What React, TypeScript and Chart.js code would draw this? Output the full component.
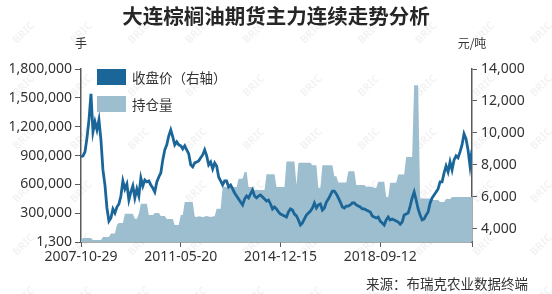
import React, { useEffect, useRef } from "react";
import { Chart, registerables } from "chart.js";

Chart.register(...registerables);

const TITLE = "大连棕榈油期货主力连续走势分析";
const LEFT_UNIT = "手";
const RIGHT_UNIT = "元/吨";
const SOURCE = "来源：布瑞克农业数据终端";
const PRICE_LABEL = "收盘价（右轴）";
const OI_LABEL = "持仓量";
const WATERMARK = "BRIC";

const X_TICK_INDEX = [0, 50, 100, 150, 196];
const X_TICK_LABELS = ["2007-10-29", "2011-05-20", "2014-12-15", "2018-09-12", ""];
const LEFT_TICKS = [1300, 300000, 600000, 900000, 1200000, 1500000, 1800000];
const RIGHT_TICKS = [4000, 6000, 8000, 10000, 12000, 14000];

// 收盘价 (元/吨), right axis
const PRICE = [
  8500, 8560, 8810, 9690, 10820, 12450, 10070, 10690, 10190, 10820,
  9560, 7680, 6740, 5300, 4480, 4670, 5240, 4980, 5360, 5550,
  6050, 6990, 6490, 6800, 5800, 6300, 6680, 5930, 6490, 6050,
  7180, 6680, 7050, 6930, 6990, 6740, 6550, 6300, 6930, 7240,
  7490, 8310, 8940, 9250, 9820, 10190, 9750, 9250, 9440, 9250,
  9190, 9000, 9190, 8940, 8690, 8000, 7870, 8120, 8180, 8250,
  8440, 8620, 8940, 8560, 8000, 8180, 7750, 8120, 7930, 7240,
  6990, 6740, 6990, 6990, 6620, 6740, 6490, 6240, 6050, 5860,
  5670, 5490, 5860, 6050, 5930, 6180, 6430, 6050, 5930, 6050,
  6110, 5990, 5860, 5740, 5800, 5550, 5240, 5360, 5240, 5050,
  4920, 4860, 4800, 4730, 5050, 5240, 5170, 4920, 4800, 4550,
  4230, 4360, 4610, 4860, 4980, 5110, 5300, 5610, 5300, 5490,
  5550, 5170, 5300, 5670, 5860, 6110, 6360, 6360, 6180, 5930,
  5670, 5360, 5300, 5420, 5420, 5490, 5610, 5610, 5490, 5420,
  5360, 5240, 5240, 5170, 5110, 5050, 4800, 4730, 4670, 4730,
  4480, 4360, 4230, 4550, 4730, 4550, 4610, 4550, 4480, 4420,
  4290, 4420, 4860, 4920, 4980, 5420, 5930, 6300, 5800, 5240,
  4860, 4550, 4610, 4860, 5050, 5610, 5930, 6110, 6300, 6490,
  6930, 6930, 7490, 7930, 7560, 8180, 7680, 8310, 8560, 8440,
  8810, 9250, 9940, 9630, 8940, 7930, 8940,
];

// 持仓量 (手), left axis
const OPEN_INTEREST = [
  22000, 43000, 43000, 43000, 43000, 43000, 22000, 22000, 22000, 22000,
  22000, 53000, 53000, 53000, 53000, 90000, 90000, 90000, 178000, 199000,
  199000, 199000, 295000, 295000, 295000, 295000, 295000, 243000, 243000, 295000,
  399000, 399000, 399000, 399000, 282000, 282000, 282000, 302000, 302000, 302000,
  271000, 271000, 271000, 240000, 240000, 240000, 240000, 178000, 178000, 178000,
  282000, 282000, 416000, 416000, 416000, 416000, 416000, 266000, 262000, 270000,
  266000, 258000, 266000, 272000, 266000, 262000, 266000, 270000, 347000, 347000,
  347000, 572000, 576000, 572000, 568000, 572000, 576000, 572000, 572000, 658000,
  658000, 658000, 728000, 728000, 572000, 572000, 572000, 541000, 541000, 541000,
  541000, 541000, 541000, 707000, 707000, 707000, 707000, 707000, 572000, 572000,
  572000, 572000, 572000, 837000, 837000, 837000, 837000, 837000, 593000, 826000,
  826000, 826000, 826000, 826000, 826000, 826000, 800000, 800000, 800000, 562000,
  562000, 800000, 800000, 800000, 800000, 800000, 800000, 686000, 686000, 619000,
  619000, 619000, 619000, 619000, 738000, 738000, 738000, 738000, 593000, 593000,
  593000, 593000, 593000, 577000, 577000, 577000, 577000, 562000, 562000, 629000,
  629000, 629000, 629000, 468000, 468000, 617000, 617000, 617000, 617000, 702000,
  702000, 702000, 702000, 884000, 884000, 884000, 884000, 1631000, 1631000, 1631000,
  453000, 453000, 453000, 453000, 453000, 453000, 437000, 437000, 437000, 437000,
  416000, 416000, 416000, 448000, 448000, 448000, 468000, 468000, 468000, 468000,
  468000, 468000, 468000, 468000, 468000, 468000, 468000,
];

const LINE_COLOR = "#1b6699";
const AREA_COLOR = "#9dbecf";
const AXIS_COLOR = "#5a5a5a";
const TEXT_COLOR = "#333333";
const NUM_FONT = '"Noto Sans", "DejaVu Sans", sans-serif';
const CJK_FONT = '"Noto Sans CJK SC", "Noto Sans", sans-serif';
const CJK_CENTERED_FONT = '"Noto Sans CJK TC", "Noto Sans CJK SC", sans-serif';

const fmt = (v: number) => v.toLocaleString("en-US");

// draws text glyph by glyph, giving full-width characters a full em;
// full-width brackets use a font whose punctuation is centred in the em box
function fillFullWidth(ctx: CanvasRenderingContext2D, text: string, x: number, y: number, size: number) {
  let cx = x;
  for (const ch of Array.from(text)) {
    const code = ch.charCodeAt(0);
    const full = code >= 0x2e80;
    if (full) {
      const centred = ch === "（" || ch === "）";
      ctx.font = `${size}px ${centred ? CJK_CENTERED_FONT : CJK_FONT}`;
      ctx.textAlign = "center";
      ctx.fillText(ch, cx + size / 2, y);
      cx += size;
    } else {
      ctx.font = `${size}px ${CJK_FONT}`;
      ctx.textAlign = "left";
      ctx.fillText(ch, cx, y);
      cx += ctx.measureText(ch).width;
    }
  }
}

const textPlugin = {
  id: "texts",
  beforeDraw(chart: any) {
    const ctx = chart.ctx;
    ctx.save();
    ctx.fillStyle = "rgba(0,0,0,0.05)";
    ctx.font = `bold 11px ${NUM_FONT}`;
    ctx.textAlign = "center";
    ctx.textBaseline = "middle";
    for (let r = 0; r < 6; r++) {
      for (let c = 0; c < 10; c++) {
        const x = 24 + c * 57.5;
        const y = 33 + r * 53;
        ctx.save();
        ctx.translate(x, y);
        ctx.rotate(-Math.PI / 4);
        ctx.fillText(WATERMARK, 0, 0);
        ctx.restore();
      }
    }
    ctx.restore();
  },
  afterDraw(chart: any) {
    const ctx = chart.ctx;
    const area = chart.chartArea;
    ctx.save();
    ctx.textBaseline = "middle";
    // title
    ctx.fillStyle = "#262626";
    ctx.textAlign = "center";
    ctx.font = `bold 20.5px ${CJK_FONT}`;
    ctx.fillText(TITLE, chart.width / 2, 16);
    // units
    ctx.fillStyle = TEXT_COLOR;
    ctx.font = `12px ${CJK_FONT}`;
    ctx.fillText(LEFT_UNIT, area.left, 43);
    ctx.fillText(RIGHT_UNIT, area.right, 43);
    // legend
    const ds = chart.data.datasets;
    const items = [ds[0], ds[1]];
    const lsize = 13.5;
    items.forEach((d: any, i: number) => {
      const y = area.top + i * 27;
      ctx.fillStyle = d.legendColor;
      ctx.fillRect(area.left + 16, y, 29, 16);
      ctx.fillStyle = TEXT_COLOR;
      fillFullWidth(ctx, d.label, area.left + 51, y + 8.5, lsize);
    });
    // source
    fillFullWidth(ctx, SOURCE, 528 - 13.5 * Array.from(SOURCE).length, 284, 13.5);
    ctx.restore();
  },
};

export default function App() {
  const ref = useRef<HTMLCanvasElement | null>(null);

  useEffect(() => {
    document.body.style.margin = "0";
    const canvas = ref.current;
    if (!canvas) return;

    const priceData = PRICE.map((v, i) => ({ x: i, y: v }));
    const oiData = OPEN_INTEREST.map((v, i) => ({ x: i, y: v }));

    const chart = new Chart(canvas, {
      type: "line",
      data: {
        datasets: [
          {
            label: PRICE_LABEL,
            data: priceData,
            yAxisID: "yR",
            borderColor: LINE_COLOR,
            borderWidth: 2.8,
            pointRadius: 0,
            tension: 0,
            fill: false,
            order: 0,
            legendColor: LINE_COLOR,
          } as any,
          {
            label: OI_LABEL,
            data: oiData,
            yAxisID: "yL",
            borderWidth: 0,
            borderColor: AREA_COLOR,
            backgroundColor: AREA_COLOR,
            pointRadius: 0,
            tension: 0,
            fill: "start",
            order: 1,
            legendColor: AREA_COLOR,
          } as any,
        ],
      },
      options: {
        responsive: false,
        animation: false,
        devicePixelRatio: 1,
        layout: { padding: { top: 69, left: 0, right: 0, bottom: 0 } },
        plugins: {
          legend: { display: false },
          tooltip: { enabled: false },
          title: { display: false },
        },
        scales: {
          x: {
            type: "linear",
            min: 0,
            max: PRICE.length - 1,
            afterBuildTicks: (s: any) => {
              s.ticks = X_TICK_INDEX.map((v) => ({ value: v }));
            },
            afterFit: (s: any) => {
              s.height = 52;
            },
            ticks: {
              autoSkip: false,
              maxRotation: 0,
              padding: 2,
              color: TEXT_COLOR,
              font: { family: NUM_FONT, size: 14 },
              callback: (v: any) => {
                const k = X_TICK_INDEX.indexOf(Number(v));
                return k >= 0 ? X_TICK_LABELS[k] : "";
              },
            },
            grid: {
              drawOnChartArea: false,
              drawTicks: true,
              tickLength: 5,
              color: AXIS_COLOR,
            },
            border: { display: true, color: AXIS_COLOR, width: 1.5 },
          },
          yL: {
            type: "linear",
            position: "left",
            min: 1300,
            max: 1800000,
            afterBuildTicks: (s: any) => {
              s.ticks = LEFT_TICKS.map((v) => ({ value: v }));
            },
            afterFit: (s: any) => {
              s.width = 81;
            },
            ticks: {
              padding: 3,
              color: TEXT_COLOR,
              font: { family: NUM_FONT, size: 14 },
              callback: (v: any) => fmt(Number(v)),
            },
            grid: {
              drawOnChartArea: false,
              drawTicks: true,
              tickLength: 6,
              color: AXIS_COLOR,
            },
            border: { display: true, color: AXIS_COLOR, width: 1.5 },
          },
          yR: {
            type: "linear",
            position: "right",
            min: 3170,
            max: 14000,
            afterBuildTicks: (s: any) => {
              s.ticks = RIGHT_TICKS.map((v) => ({ value: v }));
            },
            afterFit: (s: any) => {
              s.width = 80;
            },
            ticks: {
              padding: 4,
              color: TEXT_COLOR,
              font: { family: NUM_FONT, size: 14 },
              callback: (v: any) => fmt(Number(v)),
            },
            grid: {
              drawOnChartArea: false,
              drawTicks: true,
              tickLength: 5,
              color: AXIS_COLOR,
            },
            border: { display: true, color: AXIS_COLOR, width: 1.5 },
          },
        },
      } as any,
      plugins: [textPlugin],
    });

    return () => chart.destroy();
  }, []);

  return (
    <div style={{ width: 552, height: 294, position: "relative", background: "#ffffff" }}>
      <canvas ref={ref} width={552} height={294} style={{ width: 552, height: 294, display: "block" }} />
    </div>
  );
}
